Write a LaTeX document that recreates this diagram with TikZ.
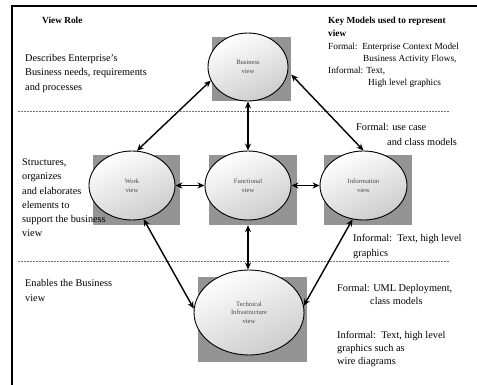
\documentclass[tikz,border=0pt]{standalone}
\usepackage{fontspec}
\setmainfont{Liberation Serif}
\usetikzlibrary{arrows.meta,shapes.geometric}

\tikzset{
  shadowbox/.style={draw=none, fill=black!42, rectangle, inner sep=0pt},
  viewnode/.style={ellipse, draw=black, line width=0.9pt, inner sep=0pt,
    top color=white, bottom color=black!20, shading angle=25,
    align=center, font=\fontsize{6.6}{8.5}\selectfont, text=black!72},
  link/.style={line width=1.4pt, {Stealth[length=7pt,width=6pt]}-{Stealth[length=7pt,width=6pt]}},
  sep/.style={black!55, line width=0.5pt, dash pattern=on 2pt off 1pt},
  frame/.style={line width=2pt},
  txt/.style={anchor=base west, inner sep=0pt, font=\fontsize{10.3}{12}\selectfont},
  small/.style={anchor=base west, inner sep=0pt, font=\fontsize{9.3}{11}\selectfont},
  head/.style={anchor=base west, inner sep=0pt, font=\fontsize{9.3}{11}\selectfont\bfseries},
}

\begin{document}
\begin{tikzpicture}[x=1pt, y=-1pt]
\useasboundingbox (0,0) rectangle (477,385);

% outer frame (left and top edges)
\draw[frame] (12,385) -- (12,6.5) -- (477,6.5);

% separators between the three bands
\coordinate (s1a) at (18,111);
\coordinate (s1b) at (450,111);
\coordinate (s2a) at (18,261);
\coordinate (s2b) at (450,261);
\draw[sep] (s1a) -- (s1b);
\draw[sep] (s2a) -- (s2b);

% grey shadow boxes
\node[shadowbox, minimum width=79pt, minimum height=64pt] (busbox) at (251.5,69) {};
\node[shadowbox, minimum width=87pt, minimum height=70pt] (workbox) at (136.5,190) {};
\node[shadowbox, minimum width=88pt, minimum height=70pt] (funbox) at (252.5,190) {};
\node[shadowbox, minimum width=88pt, minimum height=70pt] (infobox) at (368,190) {};
\node[shadowbox, minimum width=109pt, minimum height=85pt] (techbox) at (252.5,319.5) {};

% views
\node[viewnode, minimum width=80pt, minimum height=68pt] (bus) at (248,67) {Business\\view};
\node[viewnode, minimum width=86pt, minimum height=69pt] (work) at (132,185.5) {Work\\view};
\node[viewnode, minimum width=86pt, minimum height=69pt] (fun) at (248,185.5) {Functional\\view};
\node[viewnode, minimum width=87pt, minimum height=69pt] (info) at (363.5,185.5) {Information\\view};
\node[viewnode, minimum width=110pt, minimum height=85pt] (tech) at (249,312.5) {Technical\\Infrastructure\\view};

% connectors
\draw[link] (bus.200) -- (work.82);
\draw[link] (bus.south) -- (fun.north);
\draw[link] (busbox.-8) -- (info.north);
\draw[link] (work.east) -- (fun.west);
\draw[link] (fun.east) -- (info.west);
\draw[link] (fun.south |- funbox.south) -- (fun.south |- tech.north);
\draw[link] (work.-71) -- (tech.176);
\draw[link] (info.-108) -- (tech.7);

% left column: view roles
\node[head] (role) at (42,24) {View Role};
\node[txt] (r1a) at (25,61.5) {Describes Enterprise’s};
\node[txt] (r1b) at (25,76) {Business needs, requirements};
\node[txt] (r1c) at (25,90.5) {and processes};
\node[txt] (r2a) at (22,166) {Structures,};
\node[txt] (r2b) at (22,180) {organizes};
\node[txt] (r2c) at (22,194.5) {and elaborates};
\node[txt] (r2d) at (22,208.5) {elements to};
\node[txt] (r2e) at (22,222.5) {support the business};
\node[txt] (r2f) at (22,236.5) {view};
\node[txt] (r3a) at (25,287) {Enables the Business};
\node[txt] (r3b) at (25,301) {view};

% right column: key models
\node[head] (km1) at (328,24) {Key Models used to represent};
\node[head] (km2) at (328,37) {view};
\node[small] (k1a) at (328,49.5) {Formal:\ \ Enterprise Context Model};
\node[small] (k1b) at (363,61.5) {Business Activity Flows,};
\node[small] (k1c) at (328,74) {Informal: Text,};
\node[small] (k1d) at (368,86) {High level graphics};
\node[txt] (k2a) at (356,131) {Formal: use case};
\node[txt] (k2b) at (387,146) {and class models};
\node[txt] (k2c) at (353,241) {Informal:\ \ Text, high level};
\node[txt] (k2d) at (353,256) {graphics};
\node[txt] (k3a) at (337,291) {Formal: UML Deployment,};
\node[txt] (k3b) at (370,304) {class models};
\node[txt] (k3c) at (337,338) {Informal:\ \ Text, high level};
\node[txt] (k3d) at (337,351) {graphics such as};
\node[txt] (k3e) at (337,364) {wire diagrams};
\end{tikzpicture}
\end{document}
